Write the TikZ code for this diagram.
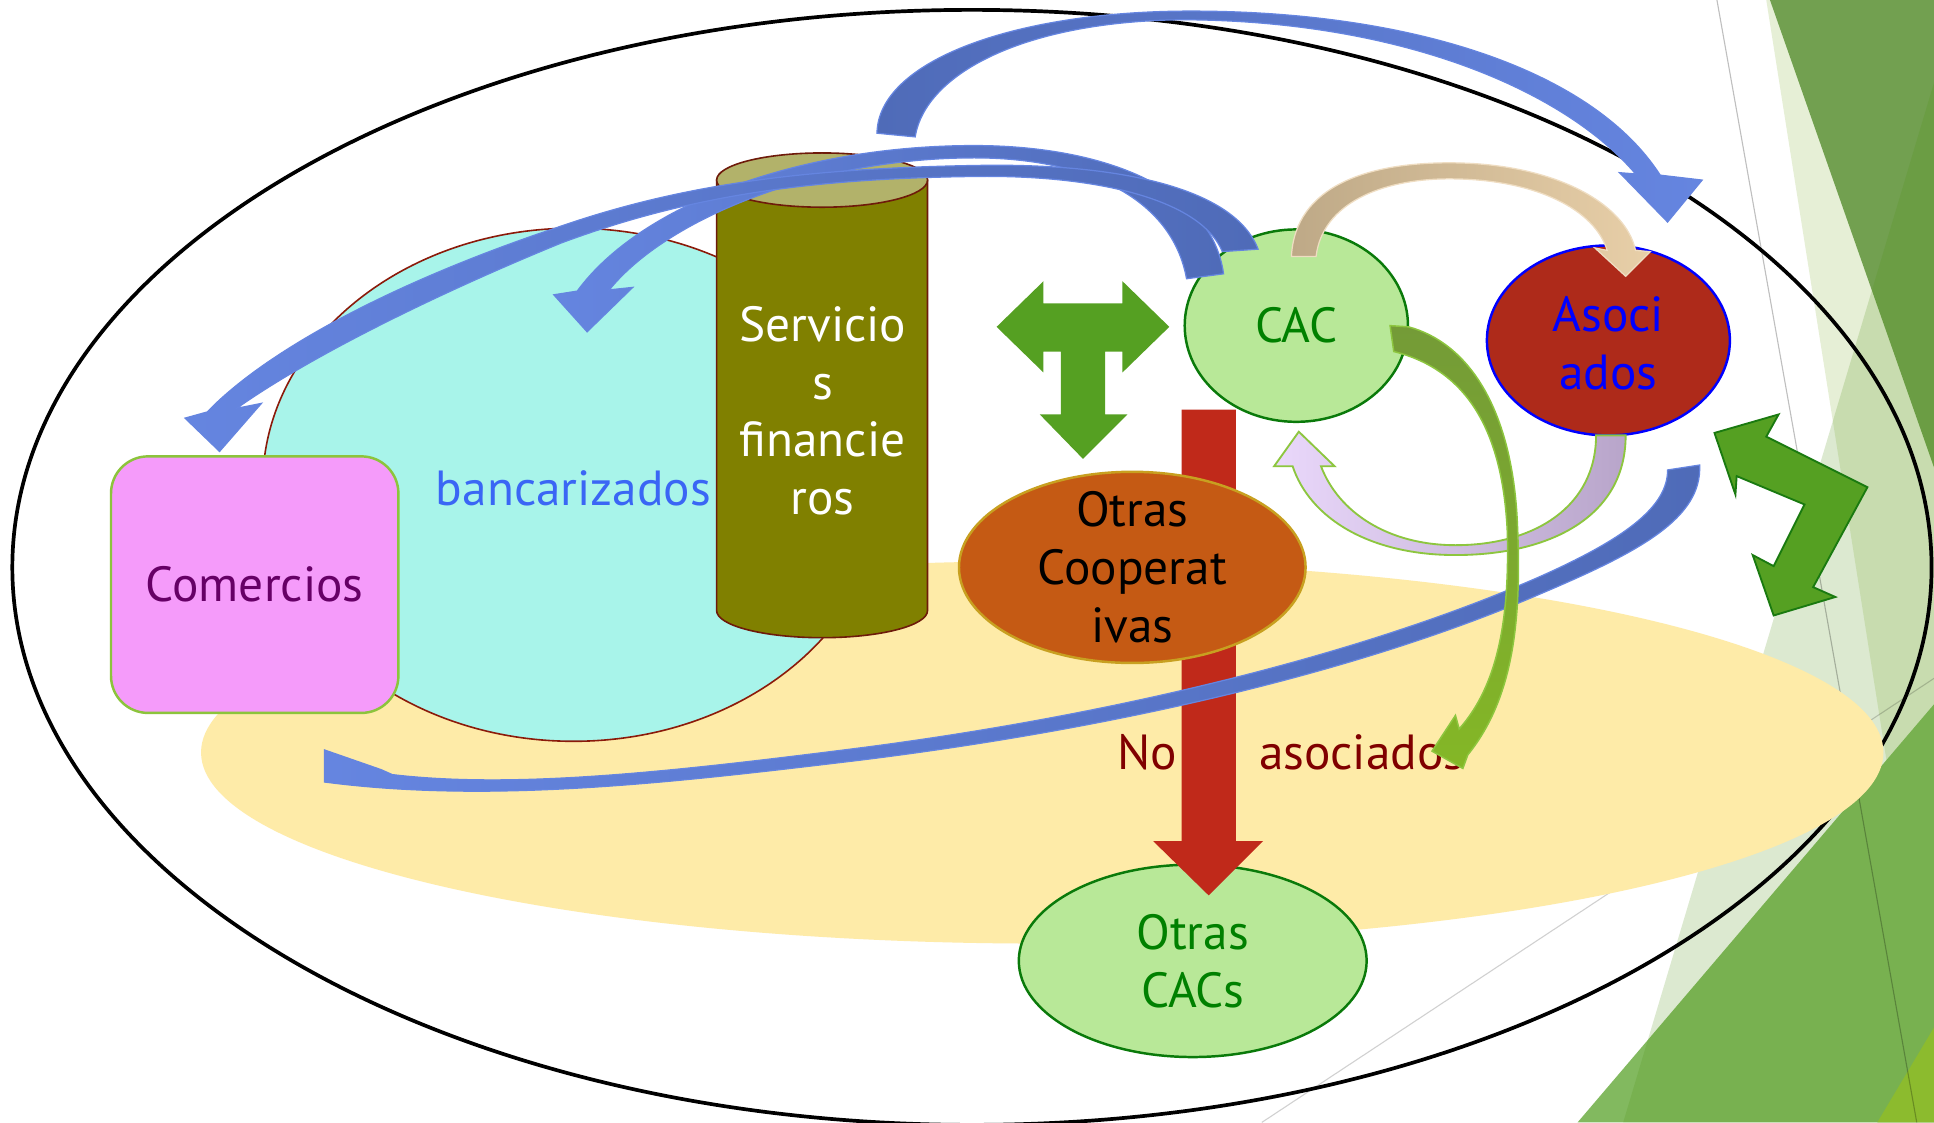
\documentclass[tikz,border=0pt]{standalone}
\usepackage{fontspec}
\setmainfont{PT Sans}
\usetikzlibrary{shapes.geometric}

% palette
\definecolor{bgpale}{RGB}{230,239,214}
\definecolor{bgdark}{RGB}{114,160,80}
\definecolor{bgveil}{RGB}{80,145,20}
\definecolor{bggreen}{RGB}{130,185,95}
\definecolor{bglime}{RGB}{140,187,46}
\definecolor{yellowzone}{RGB}{254,235,168}
\definecolor{cyanzone}{RGB}{168,244,234}
\definecolor{cyanedge}{RGB}{139,26,10}
\definecolor{shopfill}{RGB}{245,155,250}
\definecolor{shopedge}{RGB}{140,196,60}
\definecolor{shoptext}{RGB}{102,0,102}
\definecolor{banktext}{RGB}{58,102,245}
\definecolor{olivebody}{RGB}{128,128,0}
\definecolor{olivetop}{RGB}{178,178,106}
\definecolor{oliveedge}{RGB}{110,26,10}
\definecolor{cacfill}{RGB}{184,232,152}
\definecolor{cacedge}{RGB}{10,122,10}
\definecolor{cactext}{RGB}{0,128,0}
\definecolor{asofill}{RGB}{174,42,26}
\definecolor{asoedge}{RGB}{0,0,255}
\definecolor{coopfill}{RGB}{197,90,20}
\definecolor{coopedge}{RGB}{200,160,32}
\definecolor{redarrow}{RGB}{192,41,26}
\definecolor{notext}{RGB}{128,0,0}
\definecolor{leafgreen}{RGB}{85,160,34}
\definecolor{leafedge}{RGB}{26,122,16}
\definecolor{blueL}{RGB}{101,133,224}
\definecolor{blueD}{RGB}{79,107,184}
\definecolor{beigeL}{RGB}{232,207,168}
\definecolor{beigeD}{RGB}{190,169,135}
\definecolor{lilacL}{RGB}{234,216,251}
\definecolor{lilacD}{RGB}{184,165,202}
\definecolor{limeedge}{RGB}{141,198,63}
\definecolor{greenL}{RGB}{132,183,38}
\definecolor{greenD}{RGB}{116,155,55}

\begin{document}
\begin{tikzpicture}[x=1pt,y=-1pt,
  txt/.style={font=\fontsize{40}{47}\selectfont, align=center, inner sep=0pt},
  blob/.style={ellipse, inner sep=0pt, outer sep=0pt},
  bluearrow/.style={draw=blueL, line width=1},
]
\useasboundingbox (0,0) rectangle (1568,910);
\fill[white] (0,0) rectangle (1568,910);

% background facets on the right
\fill[bgpale] (1432,0) -- (1568,860) -- (1568,0) -- cycle;
\fill[bgdark] (1435,0) -- (1568,379) -- (1568,0) -- cycle;
\fill[bggreen] (1279,910) -- (1568,571) -- (1568,910) -- cycle;
\fill[bgveil, opacity=0.2] (1568,67) -- (1316,910) -- (1568,910) -- cycle;
\fill[bglime] (1522,910) -- (1568,833) -- (1568,910) -- cycle;
\draw[black, opacity=0.25, line width=0.9] (1392,0) -- (1554,910);
\draw[black, opacity=0.18, line width=0.9] (1023,910) -- (1568,550);

% outer world
\node[blob, draw=black, line width=3, minimum width=1556, minimum height=904] (world) at (788,460) {};

% non-member zone
\node[blob, fill=yellowzone, minimum width=1364, minimum height=310] (nonmembers) at (845,610) {};

% banked zone
\node[blob, fill=cyanzone, draw=cyanedge, line width=1.3, minimum width=504, minimum height=416] (banked) at (465,393) {};

% shops
\node[rounded corners=30pt, fill=shopfill, draw=shopedge, line width=2, minimum width=233, minimum height=208, inner sep=0pt] (shops) at (206.5,474) {};
\node[txt, text=shoptext] (shopsname) at (shops.center) {Comercios};

\node[txt, text=banktext] (bankedname) at (465,396) {bancarizados};

% financial services cylinder
\path[fill=olivebody, draw=oliveedge, line width=1.3]
  (581,146) -- (581,495) .. controls (581,507.2) and (619.3,517) .. (666.5,517)
  .. controls (713.7,517) and (752,507.2) .. (752,495) -- (752,146) -- cycle;
\node[blob, fill=olivetop, draw=oliveedge, line width=1.3, minimum width=171, minimum height=44] (vaulttop) at (666.5,146) {};
\node[txt, text=white] (vaultname) at (667,333) {Servicio\\s\\financie\\ros};

% other credit unions
\node[blob, fill=cacfill, draw=cacedge, line width=2, minimum width=282, minimum height=156] (othercacs) at (967,779) {};
\node[txt, text=cactext] (othercacsname) at (othercacs.center) {Otras\\CACs};

% red flow down to other credit unions
\fill[redarrow] (958,332) -- (1002,332) -- (1002,682) -- (1024,682) -- (980,726) -- (935,682) -- (958,682) -- cycle;

% other cooperatives
\node[blob, fill=coopfill, draw=coopedge, line width=2, minimum width=281, minimum height=155] (coops) at (918,460) {};
\node[txt, text=black] (coopsname) at (coops.center) {Otras\\Cooperat\\ivas};

\node[txt, text=notext] (noword) at (930,610) {No};
\node[txt, text=notext] (memberword) at (1104,610) {asociados};

% three-way green arrow
\fill[leafgreen] (808,265) -- (846,228) -- (846,246) -- (910,246) -- (910,228) -- (948,265)
  -- (910,302) -- (910,285) -- (896,285) -- (896,336) -- (914,336) -- (878,372)
  -- (843,336) -- (860,336) -- (860,285) -- (846,285) -- (846,302) -- cycle;

% credit union and members
\node[blob, fill=cacfill, draw=cacedge, line width=2, minimum width=181, minimum height=156] (cac) at (1051,264) {};
\node[txt, text=cactext] (cacname) at (cac.center) {CAC};
\node[blob, fill=asofill, draw=asoedge, line width=2, minimum width=197, minimum height=154] (members) at (1304,276) {};
\node[txt, text=asoedge] (membersname) at (1304,278) {Asoci\\ados};

% CAC -> Asociados (beige)
\path[left color=beigeD, right color=beigeL, draw=beigeL!70!white, line width=1]
  (1047,208) .. controls (1050,150) and (1110,132) .. (1175,132)
  .. controls (1260,132) and (1318,165) .. (1326,203)
  -- (1338,204) -- (1318,224) -- (1293,201) -- (1303,203)
  .. controls (1293,170) and (1245,145) .. (1175,145)
  .. controls (1120,145) and (1072,165) .. (1067,208) -- cycle;

% Asociados -> CAC (lilac)
\path[left color=lilacL, right color=lilacD, draw=limeedge, line width=1.5]
  (1294,353) -- (1318,353) .. controls (1318,420) and (1255,450) .. (1180,450)
  .. controls (1110,450) and (1062,420) .. (1048,378)
  -- (1033,378) -- (1053,350) -- (1082,378) -- (1071,378)
  .. controls (1085,415) and (1125,442) .. (1180,442)
  .. controls (1245,442) and (1294,410) .. (1294,353) -- cycle;

% Asociados -> Comercios (thin blue, lower)
\path[bluearrow, left color=blueL, middle color=blueL, right color=blueD]
  (1378,377) .. controls (1380,420) and (1330,447) .. (1250,481)
  .. controls (1100,546) and (900,591) .. (700,616)
  .. controls (550,634) and (400,652) .. (263,634)
  -- (263,608) -- (309,624) -- (318,628)
  .. controls (420,640) and (550,625) .. (700,606)
  .. controls (900,580) and (1100,532) .. (1245,469)
  .. controls (1320,436) and (1352,410) .. (1352,381) -- cycle;

% CAC -> no asociados (green)
\path[top color=greenD, bottom color=greenL, draw=limeedge, line width=1.2]
  (1127,264) -- (1142,265) .. controls (1190,278) and (1225,330) .. (1230,420)
  .. controls (1234,500) and (1228,565) .. (1190,612)
  -- (1186,623) -- (1161,609) -- (1180,580) -- (1183,591)
  .. controls (1215,555) and (1224,500) .. (1222,430)
  .. controls (1218,350) and (1190,300) .. (1130,285) -- cycle;

% top arc towards Asociados
\path[bluearrow, left color=blueD, middle color=blueL, right color=blueL]
  (711,108) .. controls (712,50) and (820,10) .. (960,9)
  .. controls (1140,8) and (1290,55) .. (1346,142)
  -- (1380,146) -- (1352,180) -- (1313,140) -- (1326,141)
  .. controls (1270,75) and (1140,17) .. (960,16)
  .. controls (830,17) and (750,60) .. (742,111) -- cycle;

% CAC -> bancarizados
\path[bluearrow, left color=blueL, middle color=blueL, right color=blueD]
  (992,222) .. controls (982,150) and (890,118) .. (790,118)
  .. controls (650,118) and (520,165) .. (468,236)
  -- (449,239) -- (476,269) -- (513,233) -- (494,235)
  .. controls (540,178) and (660,128) .. (790,128)
  .. controls (880,128) and (950,160) .. (962,226) -- cycle;

% CAC -> Comercios
\path[bluearrow, left color=blueL, middle color=blueL, right color=blueD]
  (1020,202) .. controls (1000,150) and (900,133) .. (800,134)
  .. controls (650,136) and (550,150) .. (450,185)
  .. controls (330,225) and (220,280) .. (168,334)
  -- (150,339) -- (178,366) -- (212,327) -- (192,331)
  .. controls (250,290) and (350,240) .. (455,197)
  .. controls (560,158) and (660,144) .. (800,143)
  .. controls (900,143) and (975,165) .. (991,204) -- cycle;

% zigzag two-way arrow at the right
\path[fill=leafgreen, draw=leafedge, line width=1.5]
  (1390,351) -- (1442,336) -- (1432,354) -- (1514,395) -- (1470,476) -- (1488,484)
  -- (1438,499) -- (1421,450) -- (1438,459) -- (1463,409) -- (1408,386) -- (1407,401) -- cycle;
\end{tikzpicture}
\end{document}
